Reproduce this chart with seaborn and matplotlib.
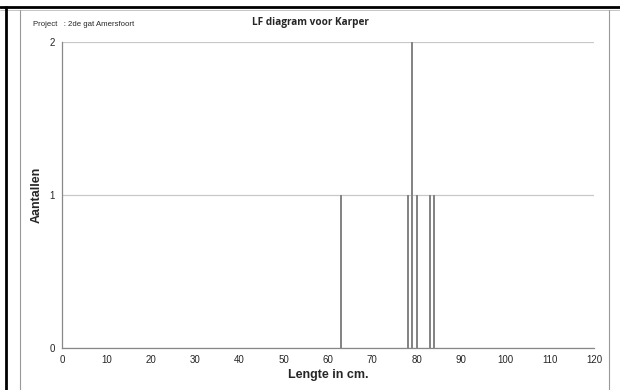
import numpy as np
import pandas as pd
import matplotlib.pyplot as plt
import seaborn as sns
from matplotlib.lines import Line2D
from matplotlib.ticker import MultipleLocator

# measured lengths (cm) of each caught carp
lengths = [63, 78, 79, 79, 80, 83, 84]
y_ticks = [0, 1, 2]
x_ticks = list(range(0, 121, 10))

data = pd.DataFrame({"lengte": lengths})

sns.set_style("white")
plt.rcParams['font.family'] = ['Liberation Sans', 'DejaVu Sans']

fig = plt.figure(figsize=(6.2, 3.9), dpi=100)
ax = fig.add_axes([0.1, 1 - 348/390, 0.858, 306/390])

sns.histplot(data=data, x="lengte", discrete=True, shrink=0.45,
             color="#858585", edgecolor="none", alpha=1, ax=ax, zorder=3)

ax.set_xlim(0, 120)
ax.set_ylim(0, 2)
ax.set_xticks(x_ticks)
ax.xaxis.set_minor_locator(MultipleLocator(5))
ax.set_yticks(y_ticks)
ax.tick_params(axis="both", which="both", direction="out", color="#888888",
               labelsize=7, length=3, width=0.8, pad=2)
ax.tick_params(axis="x", which="minor", length=2)
ax.yaxis.grid(True, color="#c8c8c8", linewidth=0.9)
ax.set_axisbelow(True)
for s in ["top", "right"]:
    ax.spines[s].set_visible(False)
for s in ["left", "bottom"]:
    ax.spines[s].set_color("#888888")
    ax.spines[s].set_linewidth(0.9)

ax.set_xlabel("Lengte in cm.", fontsize=9, fontweight="bold", labelpad=3)
ax.set_ylabel("Aantallen", fontsize=9, fontweight="bold", labelpad=5)

# page frame
fig.add_artist(Line2D([0, 1], [1 - 7/390, 1 - 7/390], color="black", lw=2))
fig.add_artist(Line2D([0, 1], [1 - 9.5/390, 1 - 9.5/390], color="#bbbbbb", lw=0.6))
fig.add_artist(Line2D([6/620, 6/620], [0, 1 - 7/390], color="black", lw=2))
fig.add_artist(Line2D([20/620, 20/620], [0, 1 - 10/390], color="#999999", lw=0.8))
fig.add_artist(Line2D([609/620, 609/620], [0, 1 - 10/390], color="#999999", lw=0.8))

fig.text(33/620, 1 - 24/390, "Project   : 2de gat Amersfoort", fontsize=5.6,
         va="center", ha="left")
fig.text(310/620, 1 - 23/390, "LF diagram voor Karper", fontsize=7.2,
         fontweight="bold", va="center", ha="center",
         family=["Open Sans", "DejaVu Sans"])

fig.savefig("out.png", dpi=100)
